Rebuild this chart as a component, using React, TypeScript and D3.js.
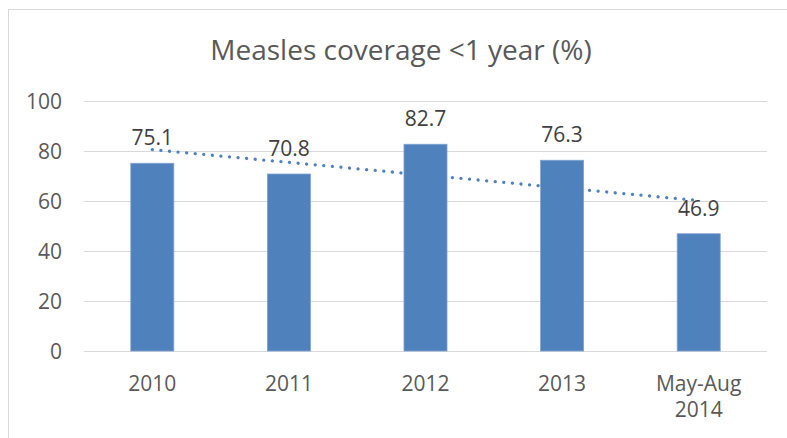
import React from "react";
import * as d3 from "d3";

const categories = ["2010", "2011", "2012", "2013", "May-Aug 2014"];
const coverage = [75.1, 70.8, 82.7, 76.3, 46.9];
const yTicks = [0, 20, 40, 60, 80, 100];
const title = "Measles coverage <1 year (%)";

const W = 787;
const H = 438;
const FONT = "'Open Sans', sans-serif";
const BAR = "#4F81BD";
const TEXT = "#595959";
const GRID = "#D9D9D9";
const LABEL_SIZE = 21;

export default function App() {
  const x = d3
    .scaleBand<string>()
    .domain(categories)
    .range([84, 767])
    .paddingInner(0.685)
    .paddingOuter(0.3425);
  const y = d3.scaleLinear().domain([0, 100]).range([351, 101]);

  // Linear trendline (least squares over category index 1..n)
  const n = coverage.length;
  const xs = coverage.map((_, i) => i + 1);
  const mx = d3.mean(xs)!;
  const my = d3.mean(coverage)!;
  const slope =
    d3.sum(xs.map((xi, i) => (xi - mx) * (coverage[i] - my))) /
    d3.sum(xs.map((xi) => (xi - mx) ** 2));
  const intercept = my - slope * mx;
  const trendPts: [number, number][] = categories.map((c, i) => [
    x(c)! + x.bandwidth() / 2,
    y(intercept + slope * (i + 1)),
  ]);
  const trendPath = d3.line()([trendPts[0], trendPts[n - 1]]) || "";

  return (
    <svg
      width={W}
      height={H}
      style={{ position: "absolute", left: 0, top: 0, background: "#fff" }}
      fontFamily={FONT}
    >
      <rect x={8.5} y={9.5} width={790} height={440} fill="#fff" stroke={GRID} strokeWidth={1} />
      <text x={401} y={60} textAnchor="middle" fontSize={28} fill={TEXT}>
        {title}
      </text>

      {yTicks.map((t) => (
        <g key={t}>
          <line x1={84} x2={767} y1={Math.round(y(t)) + 0.5} y2={Math.round(y(t)) + 0.5} stroke={GRID} strokeWidth={1} />
          <text x={62} y={y(t)} dy="0.36em" textAnchor="end" fontSize={LABEL_SIZE} fill={TEXT}>
            {t}
          </text>
        </g>
      ))}

      <path
        d={trendPath}
        fill="none"
        stroke={BAR}
        strokeWidth={3.3}
        strokeLinecap="round"
        strokeDasharray="0.01 8.6"
      />

      {categories.map((c, i) => (
        <rect
          key={c}
          x={x(c)}
          y={y(coverage[i])}
          width={x.bandwidth()}
          height={y(0) - y(coverage[i])}
          fill={BAR}
          stroke="#7FA3D1"
          strokeWidth={0.8}
        />
      ))}

      {categories.map((c, i) => (
        <text
          key={c}
          x={x(c)! + x.bandwidth() / 2}
          y={y(coverage[i]) - 18}
          textAnchor="middle"
          fontSize={LABEL_SIZE}
          fill="#404040"
        >
          {coverage[i].toFixed(1)}
        </text>
      ))}

      {categories.map((c) => (
        <text key={c} x={x(c)! + x.bandwidth() / 2} y={391} textAnchor="middle" fontSize={LABEL_SIZE} fill={TEXT}>
          {c.split(" ").map((line, j) => (
            <tspan key={j} x={x(c)! + x.bandwidth() / 2} dy={j === 0 ? 0 : 26}>
              {line}
            </tspan>
          ))}
        </text>
      ))}
    </svg>
  );
}
